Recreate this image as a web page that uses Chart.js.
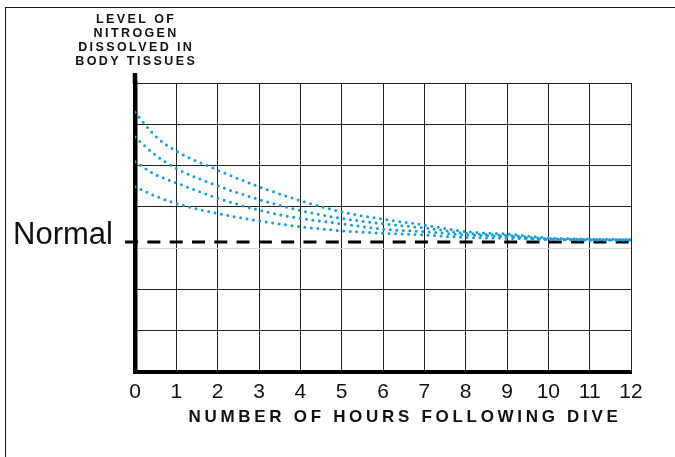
<!DOCTYPE html>
<html>
<head>
<meta charset="utf-8">
<script src="https://cdn.jsdelivr.net/npm/chart.js@4/dist/chart.umd.min.js"></script>
<style>
html,body{margin:0;padding:0;background:#fff;}
#wrap{position:relative;width:675px;height:457px;overflow:hidden;}
#frame{position:absolute;left:5px;top:7px;width:720px;height:520px;border-left:1px solid #1a1a1a;border-top:1px solid #1a1a1a;}
canvas{position:absolute;left:0;top:0;}
</style>
</head>
<body>
<div id="wrap"><div id="frame"></div><canvas id="c" width="675" height="457"></canvas></div>
<script>
// ---- data ----
const hours = [0,0.5,1,2,3,4,5,6,7,8,9,10,11,12];
const xTickLabels = ['0','1','2','3','4','5','6','7','8','9','10','11','12'];
const curve1 = [6.29,5.71,5.35,4.89,4.49,4.15,3.88,3.70,3.56,3.40,3.34,3.25,3.22,3.21];
const curve2 = [5.69,5.25,4.93,4.51,4.18,3.91,3.72,3.59,3.49,3.36,3.31,3.23,3.21,3.20];
const curve3 = [5.09,4.78,4.58,4.21,3.92,3.72,3.59,3.46,3.40,3.32,3.28,3.21,3.20,3.20];
const curve4 = [4.49,4.26,4.08,3.84,3.66,3.52,3.42,3.36,3.32,3.26,3.24,3.21,3.20,3.20];
const normalLevel = 3.15;
const normalSpan = [-0.24, 12];
const yTitleLines = ['LEVEL OF','NITROGEN','DISSOLVED IN','BODY TISSUES'];
const xTitle = 'NUMBER OF HOURS FOLLOWING DIVE';
const normalLabel = 'Normal';

const BLUE = '#189dda';
const FONT = "'Liberation Sans', Arial, Helvetica, sans-serif";

function pts(arr){ return hours.map((h,i)=>({x:h, y:arr[i]})); }

const curveStyle = {
  borderColor: BLUE,
  borderWidth: 3,
  borderDash: [0, 6.5],
  borderCapStyle: 'round',
  pointRadius: 0,
  fill: false,
  cubicInterpolationMode: 'monotone'
};

const annot = {
  id: 'annot',
  beforeDraw(chart){
    const s = chart.scales.x;
    if (s && !s._lsPatched){
      const orig = s.drawTitle;
      s.drawTitle = function(){
        const c = this.ctx;
        c.save();
        c.letterSpacing = '3.7px';
        c.translate(22, 0);
        orig.call(this);
        c.restore();
      };
      s._lsPatched = true;
    }
  },
  afterDraw(chart){
    const {ctx, chartArea:a, scales:{y}} = chart;
    ctx.save();
    // axis extension above plot
    ctx.strokeStyle = '#000';
    ctx.lineWidth = 4.5;
    ctx.lineCap = 'butt';
    ctx.beginPath();
    ctx.moveTo(a.left, a.top + 1);
    ctx.lineTo(a.left, a.top - 10);
    ctx.stroke();
    // y title
    ctx.fillStyle = '#111';
    ctx.font = 'bold 12.5px ' + FONT;
    ctx.textAlign = 'center';
    ctx.textBaseline = 'alphabetic';
    ctx.letterSpacing = '2.4px';
    yTitleLines.forEach((t,i)=>{
      ctx.fillText(t, a.left + 1.2, a.top - 60.3 + i*14.2);
    });
    // Normal label
    ctx.letterSpacing = '0px';
    ctx.font = '31px ' + FONT;
    ctx.textAlign = 'right';
    ctx.fillText(normalLabel, a.left - 22, y.getPixelForValue(normalLevel) + 1.6);
    ctx.restore();
  }
};

new Chart(document.getElementById('c'), {
  type: 'line',
  data: {
    datasets: [
      Object.assign({label:'c1', data: pts(curve1)}, curveStyle),
      Object.assign({label:'c2', data: pts(curve2)}, curveStyle),
      Object.assign({label:'c3', data: pts(curve3)}, curveStyle),
      Object.assign({label:'c4', data: pts(curve4)}, curveStyle),
      {
        label: 'Normal',
        data: normalSpan.map(x=>({x, y: normalLevel})),
        borderColor: '#000',
        borderWidth: 3,
        borderDash: [13, 9.3],
        pointRadius: 0,
        fill: false,
        clip: false
      }
    ]
  },
  options: {
    responsive: false,
    animation: false,
    events: [],
    layout: { padding: { left: 0, top: 83, right: 44, bottom: 0 } },
    plugins: { legend: {display:false}, tooltip: {enabled:false}, title:{display:false} },
    scales: {
      x: {
        type: 'linear',
        min: 0, max: 12,
        afterFit(s){ s.height = 85; },
        grid: { color: '#222', lineWidth: 1, drawTicks: false },
        border: { color: '#000', width: 4 },
        ticks: {
          stepSize: 1,
          padding: 8,
          color: '#111',
          font: { family: FONT, size: 21 },
          callback: (v)=> { const i = Number.isInteger(v) ? v : -1; return xTickLabels[i] ?? ''; }
        },
        title: {
          display: true,
          text: xTitle,
          color: '#111',
          font: { family: FONT, size: 17, weight: 'bold', lineHeight: 1.2 },
          padding: { top: 0, bottom: 29 }
        }
      },
      y: {
        type: 'linear',
        min: 0, max: 7,
        afterFit(s){ s.width = 135; },
        grid: {
          drawTicks: false,
          lineWidth: 1,
          color: (ctx)=> ctx.tick && ctx.tick.value === 3 ? '#d6d6d6' : '#222'
        },
        border: { color: '#000', width: 4.5 },
        ticks: { display: false, stepSize: 1 }
      }
    }
  },
  plugins: [annot]
});
</script>
</body>
</html>
